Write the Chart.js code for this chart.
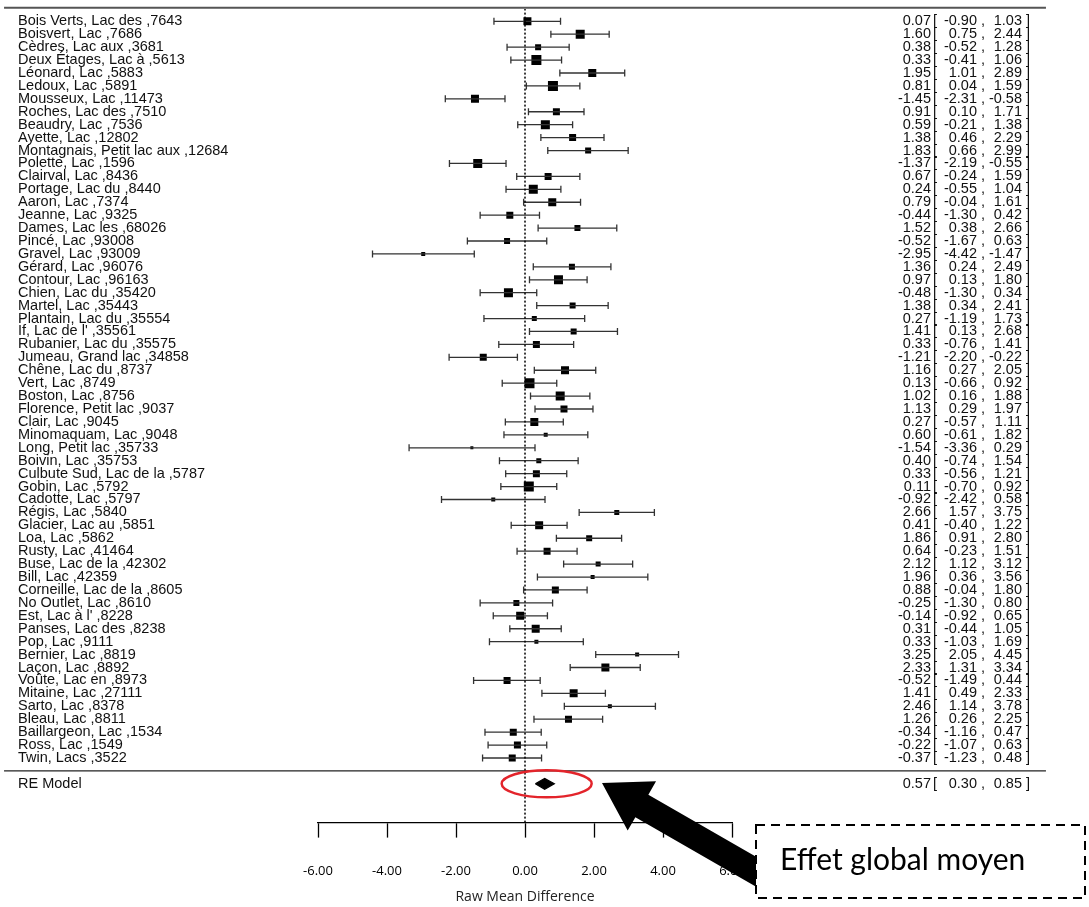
<!DOCTYPE html>
<html>
<head>
<meta charset="utf-8">
<title>Forest plot - Raw Mean Difference</title>
<script src="https://cdn.jsdelivr.net/npm/chart.js@4.4.1/dist/chart.umd.min.js"></script>
<style>
  html, body { margin: 0; padding: 0; background: #fff; }
  canvas { display: block; }
</style>
</head>
<body>
<canvas id="forestChart" width="1089" height="907"></canvas>
<script>
// study labels, top to bottom
const studies = [
    'Bois Verts, Lac des ,7643', 'Boisvert, Lac ,7686', 'Cèdres, Lac aux ,3681', 'Deux Étages, Lac à ,5613',
    'Léonard, Lac ,5883', 'Ledoux, Lac ,5891', 'Mousseux, Lac ,11473', 'Roches, Lac des ,7510',
    'Beaudry, Lac ,7536', 'Ayette, Lac ,12802', 'Montagnais, Petit lac aux ,12684', 'Polette, Lac ,1596',
    'Clairval, Lac ,8436', 'Portage, Lac du ,8440', 'Aaron, Lac ,7374', 'Jeanne, Lac ,9325',
    'Dames, Lac les ,68026', 'Pincé, Lac ,93008', 'Gravel, Lac ,93009', 'Gérard, Lac ,96076',
    'Contour, Lac ,96163', 'Chien, Lac du ,35420', 'Martel, Lac ,35443', 'Plantain, Lac du ,35554',
    'If, Lac de l\' ,35561', 'Rubanier, Lac du ,35575', 'Jumeau, Grand lac ,34858', 'Chêne, Lac du ,8737',
    'Vert, Lac ,8749', 'Boston, Lac ,8756', 'Florence, Petit lac ,9037', 'Clair, Lac ,9045',
    'Minomaquam, Lac ,9048', 'Long, Petit lac ,35733', 'Boivin, Lac ,35753', 'Culbute Sud, Lac de la ,5787',
    'Gobin, Lac ,5792', 'Cadotte, Lac ,5797', 'Régis, Lac ,5840', 'Glacier, Lac au ,5851',
    'Loa, Lac ,5862', 'Rusty, Lac ,41464', 'Buse, Lac de la ,42302', 'Bill, Lac ,42359',
    'Corneille, Lac de la ,8605', 'No Outlet, Lac ,8610', 'Est, Lac à l\' ,8228', 'Panses, Lac des ,8238',
    'Pop, Lac ,9111', 'Bernier, Lac ,8819', 'Laçon, Lac ,8892', 'Voûte, Lac en ,8973',
    'Mitaine, Lac ,27111', 'Sarto, Lac ,8378', 'Bleau, Lac ,8811', 'Baillargeon, Lac ,1534',
    'Ross, Lac ,1549', 'Twin, Lacs ,3522'
];

const estimates = [
    0.07, 1.60, 0.38, 0.33, 1.95, 0.81, -1.45, 0.91, 0.59, 1.38, 1.83, -1.37, 0.67, 0.24, 0.79, -0.44,
    1.52, -0.52, -2.95, 1.36, 0.97, -0.48, 1.38, 0.27, 1.41, 0.33, -1.21, 1.16, 0.13, 1.02, 1.13, 0.27,
    0.60, -1.54, 0.40, 0.33, 0.11, -0.92, 2.66, 0.41, 1.86, 0.64, 2.12, 1.96, 0.88, -0.25, -0.14, 0.31,
    0.33, 3.25, 2.33, -0.52, 1.41, 2.46, 1.26, -0.34, -0.22, -0.37
];
const lowerCI = [
    -0.90, 0.75, -0.52, -0.41, 1.01, 0.04, -2.31, 0.10, -0.21, 0.46, 0.66, -2.19, -0.24, -0.55, -0.04, -1.30,
    0.38, -1.67, -4.42, 0.24, 0.13, -1.30, 0.34, -1.19, 0.13, -0.76, -2.20, 0.27, -0.66, 0.16, 0.29, -0.57,
    -0.61, -3.36, -0.74, -0.56, -0.70, -2.42, 1.57, -0.40, 0.91, -0.23, 1.12, 0.36, -0.04, -1.30, -0.92, -0.44,
    -1.03, 2.05, 1.31, -1.49, 0.49, 1.14, 0.26, -1.16, -1.07, -1.23
];
const upperCI = [
    1.03, 2.44, 1.28, 1.06, 2.89, 1.59, -0.58, 1.71, 1.38, 2.29, 2.99, -0.55, 1.59, 1.04, 1.61, 0.42,
    2.66, 0.63, -1.47, 2.49, 1.80, 0.34, 2.41, 1.73, 2.68, 1.41, -0.22, 2.05, 0.92, 1.88, 1.97, 1.11,
    1.82, 0.29, 1.54, 1.21, 0.92, 0.58, 3.75, 1.22, 2.80, 1.51, 3.12, 3.56, 1.80, 0.80, 0.65, 1.05,
    1.69, 4.45, 3.34, 0.44, 2.33, 3.78, 2.25, 0.47, 0.63, 0.48
];
// approximate study weights (%), read from the square sizes
const weights = [
    2.00, 2.25, 1.50, 2.50, 2.00, 2.50, 2.00, 1.75, 2.25, 1.75, 1.50, 2.25, 1.75, 2.25, 2.00, 1.75,
    1.50, 1.50, 1.00, 1.50, 2.25, 2.25, 1.50, 1.25, 1.50, 1.75, 1.75, 2.00, 2.50, 2.25, 1.75, 2.00,
    1.00, 0.75, 1.25, 1.75, 2.50, 1.00, 1.25, 2.00, 1.50, 1.75, 1.25, 1.00, 1.75, 1.50, 2.00, 2.00,
    1.00, 1.00, 2.00, 1.75, 2.00, 1.00, 1.75, 1.75, 1.75, 1.75
];

// random-effects summary
const reLabel = 'RE Model';
const reEstimate = 0.57;
const reLower = 0.30;
const reUpper = 0.85;

const xTicks = [-6, -4, -2, 0, 2, 4, 6];
const plotXlim = [-15.1, 15.1];   // full width of the plot, used by the rules
const xTitle = 'Raw Mean Difference';
const noteText = 'Effet global moyen';

// rows: first study on top, RE model at -1
const rows = studies.map((s, i) => studies.length - i);
const reRow = -1;
const topRow = studies.length + 1.05;

const whiskerData = [];
rows.forEach((r, i) => {
    whiskerData.push({ x: lowerCI[i], y: r }, { x: upperCI[i], y: r }, { x: null, y: null });
});

const fmt = v => v.toFixed(2);

function drawRowText(ctx, label, est, lo, hi, py) {
    ctx.textAlign = 'left';
    ctx.fillText(label, 18, py);
    ctx.textAlign = 'right';
    ctx.fillText(fmt(est), 931, py);
    ctx.fillText(fmt(lo), 977, py);
    ctx.fillText(fmt(hi), 1022, py);
    ctx.textAlign = 'left';
    ctx.fillText('[', 933, py);
    ctx.fillText(',', 981, py);
    ctx.fillText(']', 1026, py);
}

const forestText = {
    id: 'forestText',
    afterDatasetsDraw(chart) {
        const ctx = chart.ctx;
        const y = chart.scales.y;
        ctx.save();
        ctx.font = '14.5px "Liberation Sans", Arial, sans-serif';
        ctx.fillStyle = '#111';
        ctx.textBaseline = 'middle';
        studies.forEach((name, i) => {
            drawRowText(ctx, name, estimates[i], lowerCI[i], upperCI[i], y.getPixelForValue(rows[i]));
        });
        drawRowText(ctx, reLabel, reEstimate, reLower, reUpper, y.getPixelForValue(reRow));
        ctx.restore();
    }
};

// red ring, arrow and note box added on top of the plot
const annotation = {
    id: 'annotation',
    afterDraw(chart) {
        const ctx = chart.ctx;
        const cx = chart.scales.x.getPixelForValue(reEstimate) + 2;
        const cy = chart.scales.y.getPixelForValue(reRow);
        ctx.save();

        ctx.strokeStyle = '#e3242b';
        ctx.lineWidth = 2.5;
        ctx.beginPath();
        ctx.ellipse(cx, cy, 45, 13.5, 0, 0, Math.PI * 2);
        ctx.stroke();

        // arrow pointing at the ring
        const tip = [602, 783];
        const ang = Math.atan2(88.7, 154);
        const d = [Math.cos(ang), Math.sin(ang)];
        const n = [-d[1], d[0]];
        const base = [tip[0] + 46 * d[0], tip[1] + 46 * d[1]];
        const endC = [780, tip[1] + (780 - tip[0]) * d[1] / d[0]];
        const hw = 28.4, sw = 13;
        ctx.fillStyle = '#000';
        ctx.beginPath();
        ctx.moveTo(tip[0], tip[1]);
        ctx.lineTo(base[0] - hw * n[0], base[1] - hw * n[1]);
        ctx.lineTo(base[0] - sw * n[0], base[1] - sw * n[1]);
        ctx.lineTo(endC[0] - sw * n[0], endC[1] - sw * n[1]);
        ctx.lineTo(endC[0] + sw * n[0], endC[1] + sw * n[1]);
        ctx.lineTo(base[0] + sw * n[0], base[1] + sw * n[1]);
        ctx.lineTo(base[0] + hw * n[0], base[1] + hw * n[1]);
        ctx.closePath();
        ctx.fill();

        // dashed note box
        ctx.fillStyle = '#fff';
        ctx.fillRect(756, 825, 329, 73);
        ctx.strokeStyle = '#000';
        ctx.lineWidth = 2;
        ctx.setLineDash([9, 6]);
        ctx.strokeRect(756, 825, 329, 73);
        ctx.setLineDash([]);

        ctx.fillStyle = '#000';
        ctx.font = '30px Lato, "Open Sans", sans-serif';
        ctx.textAlign = 'left';
        ctx.textBaseline = 'alphabetic';
        ctx.fillText(noteText, 780, 870);
        ctx.restore();
    }
};

function buildChart() {
    const ctx = document.getElementById('forestChart').getContext('2d');
    new Chart(ctx, {
        type: 'scatter',
        data: {
            datasets: [
                {   // reference line at 0
                    type: 'line',
                    data: [{ x: 0, y: -4 }, { x: 0, y: topRow - 0.1 }],
                    borderColor: '#000',
                    borderWidth: 1.5,
                    borderDash: [2, 2],
                    pointRadius: 0,
                    fill: false
                },
                {   // top rule
                    type: 'line',
                    data: [{ x: plotXlim[0], y: topRow }, { x: plotXlim[1], y: topRow }],
                    borderColor: '#555',
                    borderWidth: 2,
                    pointRadius: 0,
                    clip: false,
                    fill: false
                },
                {   // rule above RE model
                    type: 'line',
                    data: [{ x: plotXlim[0], y: 0 }, { x: plotXlim[1], y: 0 }],
                    borderColor: '#222',
                    borderWidth: 1.3,
                    pointRadius: 0,
                    clip: false,
                    fill: false
                },
                {   // confidence intervals with end caps
                    type: 'line',
                    data: whiskerData,
                    borderColor: '#333',
                    borderWidth: 1.3,
                    spanGaps: false,
                    pointStyle: 'line',
                    pointRotation: 90,
                    pointRadius: 3.5,
                    pointBorderColor: '#333',
                    pointBorderWidth: 1.3,
                    fill: false
                },
                {   // study estimates, size by weight
                    type: 'scatter',
                    data: rows.map((r, i) => ({ x: estimates[i], y: r })),
                    pointStyle: 'rect',
                    pointRadius: weights.map(w => w * 4 / Math.SQRT2),
                    backgroundColor: '#000',
                    borderWidth: 0
                },
                {   // RE diamond
                    type: 'line',
                    data: [
                        { x: reLower, y: reRow }, { x: reEstimate, y: reRow + 0.42 },
                        { x: reUpper, y: reRow }, { x: reEstimate, y: reRow - 0.42 },
                        { x: reLower, y: reRow }
                    ],
                    borderColor: '#000',
                    borderWidth: 1.2,
                    backgroundColor: '#000',
                    pointRadius: 0,
                    tension: 0,
                    fill: 'shape'
                }
            ]
        },
        options: {
            responsive: false,
            animation: false,
            devicePixelRatio: 1,
            events: [],
            layout: { padding: { left: 318, right: 357, top: 5, bottom: 0 } },
            plugins: {
                legend: { display: false },
                tooltip: { enabled: false }
            },
            scales: {
                x: {
                    type: 'linear',
                    min: xTicks[0],
                    max: xTicks[xTicks.length - 1],
                    afterBuildTicks: scale => { scale.ticks = xTicks.map(v => ({ value: v })); },
                    ticks: {
                        callback: v => fmt(v),
                        color: '#000',
                        padding: 26,
                        maxRotation: 0,
                        font: { family: '"Open Sans", sans-serif', size: 13 }
                    },
                    grid: {
                        drawOnChartArea: false,
                        drawTicks: true,
                        tickLength: 15,
                        tickColor: '#000',
                        tickWidth: 1.3
                    },
                    border: { display: true, color: '#000', width: 1.3 },
                    title: {
                        display: true,
                        text: xTitle,
                        color: '#222',
                        font: { family: '"Open Sans", sans-serif', size: 14 },
                        padding: { top: -17, bottom: 2 }
                    }
                },
                y: {
                    type: 'linear',
                    display: false,
                    min: -4,
                    max: studies.length + 1.1
                }
            }
        },
        plugins: [forestText, annotation]
    });
}

Promise.all([
    document.fonts.load('14px "Liberation Sans"'),
    document.fonts.load('13px "Open Sans"'),
    document.fonts.load('30px Lato')
]).then(buildChart, buildChart);
</script>
</body>
</html>
